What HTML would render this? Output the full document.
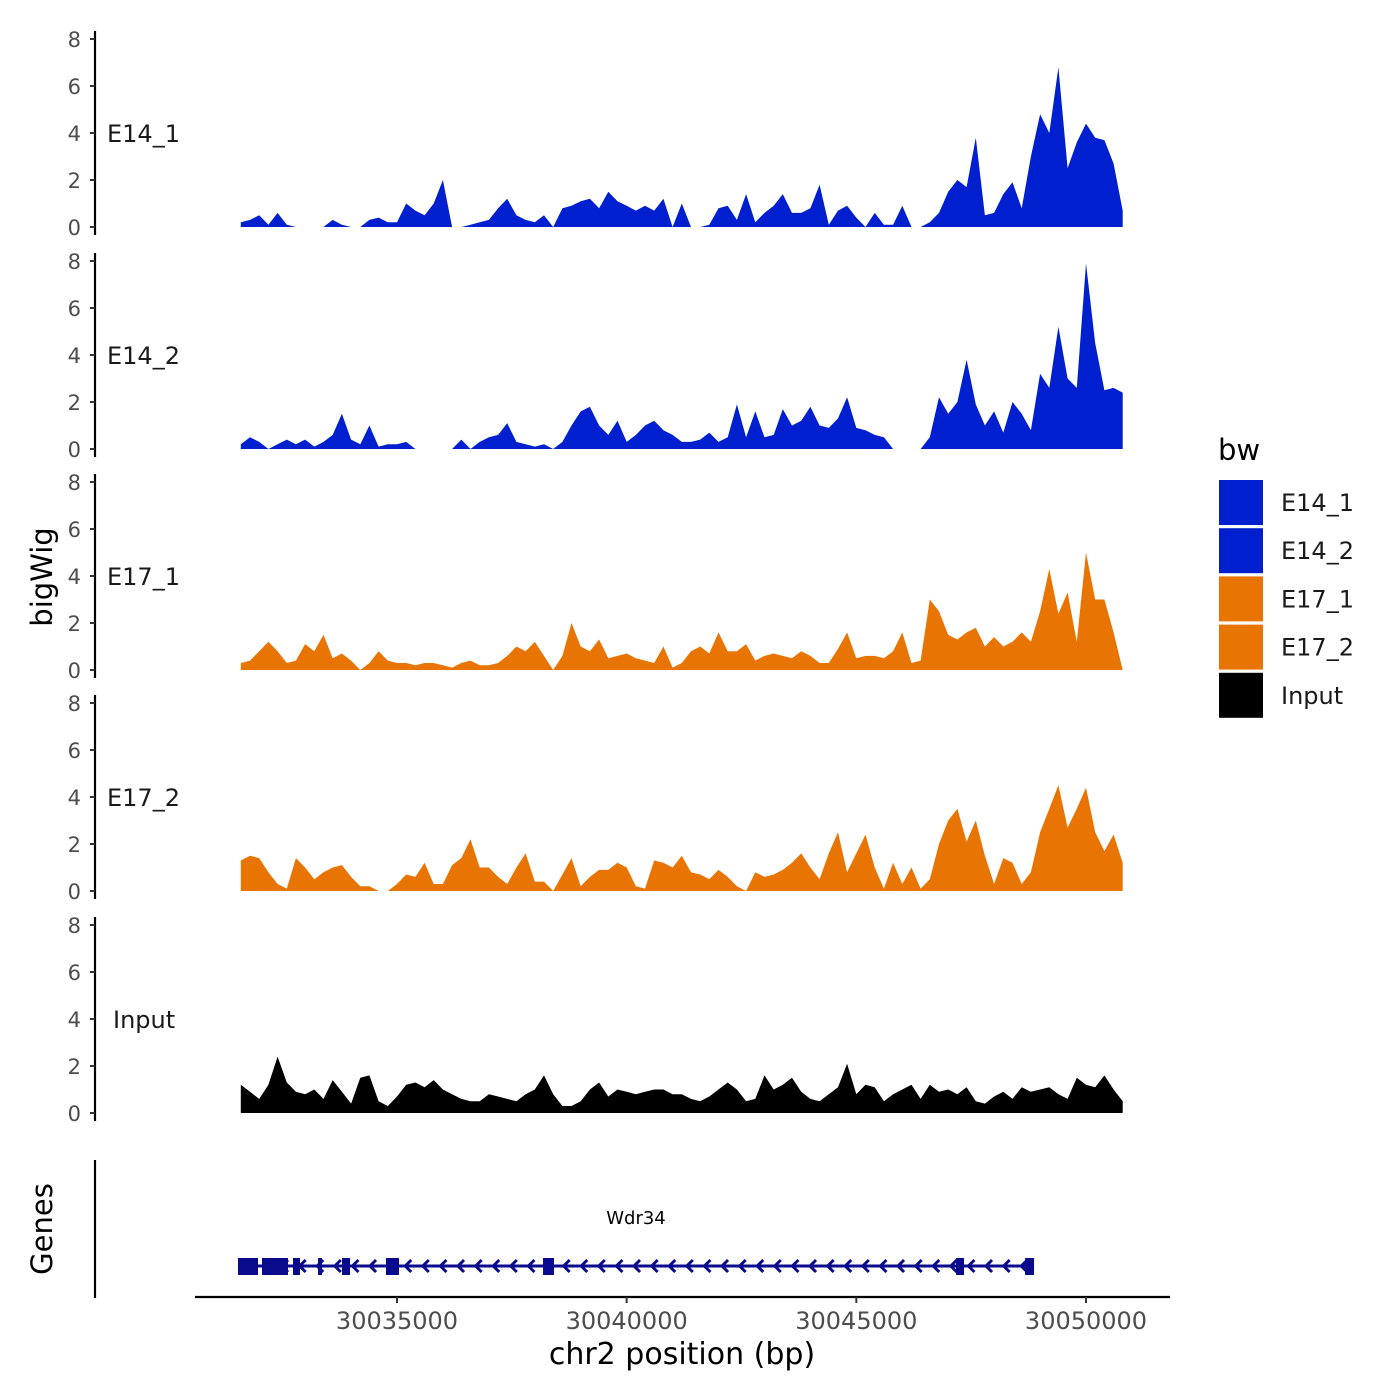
<!DOCTYPE html>
<html><head><meta charset="utf-8">
<style>
html,body{margin:0;padding:0;background:#fff;}
svg{display:block;font-family:"DejaVu Sans","Liberation Sans",sans-serif;}
</style></head>
<body>
<svg id="chart" width="1400" height="1400" viewBox="0 0 1400 1400" xmlns="http://www.w3.org/2000/svg"></svg>
<script>
const trackNames = ["E14_1","E14_2","E17_1","E17_2","Input"];
const trackColors = ["#0020D0","#0020D0","#E87503","#E87503","#000000"];
const startBp = 30031600;
const stepBp = 200;
const e14_1 = [0.2,0.3,0.5,0.1,0.6,0.1,0,0,0,0,0.3,0.1,0,0,0.3,0.4,0.2,0.2,1.0,0.7,0.5,1.0,2.0,0,0,0.1,0.2,0.3,0.8,1.2,0.5,0.3,0.2,0.5,0,0.8,0.9,1.1,1.2,0.8,1.5,1.1,0.9,0.7,0.9,0.7,1.2,0,1.0,0,0,0.1,0.8,0.9,0.3,1.4,0.2,0.6,0.9,1.4,0.6,0.6,0.8,1.8,0.1,0.7,0.9,0.4,0,0.6,0.1,0.1,0.9,0,0,0.2,0.6,1.5,2.0,1.7,3.8,0.5,0.6,1.4,1.9,0.8,3.0,4.8,4.0,6.8,2.5,3.6,4.4,3.8,3.7,2.7,0.7];
const e14_2 = [0.2,0.5,0.3,0,0.2,0.4,0.2,0.4,0.1,0.3,0.6,1.5,0.4,0.2,1.0,0.1,0.2,0.2,0.3,0,0,0,0,0,0.4,0,0.3,0.5,0.6,1.1,0.3,0.2,0.1,0.2,0,0.3,1.0,1.6,1.8,1.0,0.6,1.2,0.3,0.6,1.0,1.2,0.8,0.6,0.3,0.3,0.4,0.7,0.3,0.5,1.9,0.5,1.6,0.5,0.6,1.7,1.0,1.2,1.8,1.0,0.9,1.3,2.2,0.9,0.8,0.6,0.5,0,0,0,0,0.5,2.2,1.5,2.0,3.8,1.9,1.0,1.6,0.7,2.0,1.5,0.8,3.2,2.6,5.2,3.0,2.6,7.9,4.5,2.5,2.6,2.4];
const e17_1 = [0.3,0.4,0.8,1.2,0.8,0.3,0.4,1.1,0.8,1.5,0.5,0.7,0.4,0,0.3,0.8,0.4,0.3,0.3,0.2,0.3,0.3,0.2,0.1,0.3,0.4,0.2,0.2,0.3,0.6,1.0,0.8,1.2,0.6,0,0.6,2.0,1.0,0.8,1.3,0.5,0.6,0.7,0.5,0.4,0.3,1.0,0.1,0.3,0.8,1.0,0.7,1.6,0.8,0.8,1.1,0.4,0.6,0.7,0.6,0.5,0.8,0.6,0.3,0.3,0.9,1.6,0.5,0.6,0.6,0.5,0.8,1.6,0.3,0.4,3.0,2.5,1.5,1.3,1.6,1.8,1.0,1.4,1.0,1.2,1.6,1.2,2.5,4.3,2.4,3.3,1.2,5.0,3.0,3.0,1.6,0];
const e17_2 = [1.3,1.5,1.4,0.8,0.3,0.1,1.4,1.0,0.5,0.8,1.0,1.1,0.6,0.2,0.2,0,0,0.3,0.7,0.6,1.2,0.3,0.3,1.1,1.4,2.2,1.0,1.0,0.6,0.3,1.0,1.6,0.4,0.4,0,0.7,1.4,0.2,0.6,0.9,0.9,1.2,1.0,0.2,0.1,1.3,1.2,1.0,1.5,0.8,0.7,0.5,0.9,0.6,0.2,0,0.8,0.6,0.7,0.9,1.2,1.6,1.0,0.5,1.6,2.5,0.8,1.6,2.4,1.0,0.1,1.2,0.3,1.0,0.1,0.5,2.0,3.0,3.5,2.1,3.0,1.5,0.3,1.4,1.2,0.3,0.8,2.5,3.5,4.5,2.7,3.5,4.4,2.5,1.7,2.4,1.2];
const inputSig = [1.2,0.9,0.6,1.2,2.4,1.3,0.9,0.8,1.0,0.6,1.4,0.9,0.4,1.5,1.6,0.5,0.3,0.7,1.2,1.3,1.1,1.4,1.0,0.8,0.6,0.5,0.5,0.8,0.7,0.6,0.5,0.8,1.0,1.6,0.8,0.3,0.3,0.5,1.0,1.3,0.7,1.0,0.9,0.8,0.9,1.0,1.0,0.8,0.8,0.6,0.5,0.7,1.0,1.3,1.0,0.5,0.6,1.6,1.0,1.2,1.5,0.9,0.6,0.5,0.8,1.1,2.1,0.8,1.2,1.1,0.5,0.8,1.0,1.2,0.6,1.2,0.9,1.0,0.8,1.1,0.5,0.4,0.7,0.9,0.6,1.1,0.9,1.0,1.1,0.8,0.6,1.5,1.2,1.1,1.6,1.0,0.5];
const yTicks = [0,2,4,6,8];
const xTicks = [30035000,30040000,30045000,30050000];
const exonStarts = [30031538,30032061,30032736,30033280,30033803,30034760,30038179,30047171,30048673];
const exonEnds = [30031974,30032627,30032888,30033367,30033977,30035044,30038418,30047345,30048869];
const geneStart = 30031600, geneEnd = 30048800;

const signals = [e14_1,e14_2,e17_1,e17_2,inputSig];
const NS="http://www.w3.org/2000/svg";
const svg=document.getElementById('chart');
function mk(tag,attrs,parent){const e=document.createElementNS(NS,tag);for(const k in attrs)e.setAttribute(k,attrs[k]);(parent||svg).appendChild(e);return e;}
const xScale = bp => 397 + (bp-30035000)*(689/15000);
const baselines=[227,449,670,891,1113];
const yScale = (v,i) => baselines[i] - v*23.5;

signals.forEach((vals,t)=>{
  const g=mk('g',{});
  
  
  let d='M'+xScale(startBp).toFixed(1)+','+baselines[t];
  vals.forEach((v,i)=>{d+=' L'+xScale(startBp+i*stepBp).toFixed(1)+','+yScale(v,t).toFixed(1);});
  d+=' L'+xScale(startBp+(vals.length-1)*stepBp).toFixed(1)+','+baselines[t]+' Z';
  const p=mk('path',{d:d,fill:trackColors[t]},g);
  
  
  const ax=mk('line',{x1:95,x2:95,y1:yScale(8,t)-8,y2:baselines[t]+8,stroke:'#000','stroke-width':2.2},g);
  
  
  yTicks.forEach(v=>{
    const y=yScale(v,t);
    mk('line',{x1:90,x2:95,y1:y,y2:y,stroke:'#333','stroke-width':2},g);
    const tx=mk('text',{x:81,y:y+8,'text-anchor':'end','font-size':21,fill:'#4d4d4d'},g);
    tx.textContent=v;
    
    
  });
  const lab=mk('text',{x:trackNames[t]==='Input'?113:107,y:yScale(4,t)+9,'font-size':24,fill:'#1a1a1a'},g);
  lab.textContent=trackNames[t];
  
  
});

const gg=mk('g',{});


mk('line',{x1:95,x2:95,y1:1160,y2:1298,stroke:'#000','stroke-width':2.2},gg);
const gc='#0A0A8C';
mk('line',{x1:xScale(geneStart),x2:xScale(geneEnd),y1:1266,y2:1266,stroke:gc,'stroke-width':3},gg);
for(let x=xScale(geneStart)+8;x<xScale(geneEnd)-5;x+=17.6){
  mk('polyline',{points:(x+4)+',1260 '+(x-2)+',1266 '+(x+4)+',1272',fill:'none',stroke:gc,'stroke-width':3},gg);
}
exonStarts.forEach((s,i)=>{
  const r=mk('rect',{x:xScale(s),y:1258,width:Math.max(4,xScale(exonEnds[i])-xScale(s)),height:17,fill:gc},gg);
  
  
});
const gn=mk('text',{x:636,y:1224,'text-anchor':'middle','font-size':18,fill:'#000'},gg);
gn.textContent='Wdr34';



const xa=mk('g',{});


mk('line',{x1:195,x2:1170,y1:1297,y2:1297,stroke:'#000','stroke-width':2.2},xa);
xTicks.forEach(v=>{
  const x=xScale(v);
  mk('line',{x1:x,x2:x,y1:1297,y2:1303,stroke:'#333','stroke-width':2},xa);
  const t=mk('text',{x:x,y:1329,'text-anchor':'middle','font-size':24,fill:'#4d4d4d'},xa);
  t.textContent=v;
  
  
});

const xt=mk('text',{x:682,y:1364,'text-anchor':'middle','font-size':30,fill:'#000'});
xt.textContent='chr2 position (bp)';


const yt=mk('text',{x:0,y:0,'text-anchor':'middle','font-size':29,fill:'#000',transform:'translate(52,577) rotate(-90)'});
yt.textContent='bigWig';


const gt=mk('text',{x:0,y:0,'text-anchor':'middle','font-size':29,fill:'#000',transform:'translate(52,1229) rotate(-90)'});
gt.textContent='Genes';


const lt=mk('text',{x:1218,y:460,'font-size':29,fill:'#000'});
lt.textContent='bw';


trackNames.forEach((n,i)=>{
  const y=480+i*48.2;
  const r=mk('rect',{x:1219,y:y,width:44,height:45,fill:trackColors[i]});
  
  
  const t=mk('text',{x:1281,y:y+31,'font-size':24,fill:'#1a1a1a'});
  t.textContent=n;
  
  
});
</script>
</body></html>
